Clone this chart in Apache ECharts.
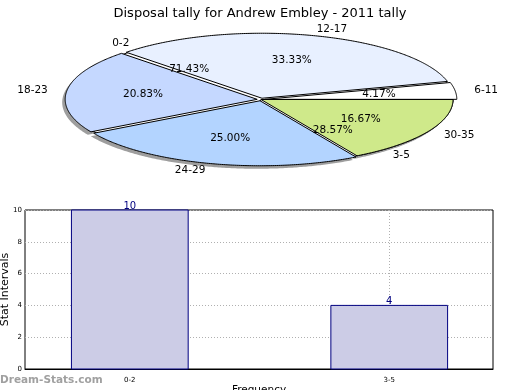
<!DOCTYPE html>
<html>
<head>
<meta charset="utf-8">
<script src="https://cdn.jsdelivr.net/npm/echarts@6/dist/echarts.min.js"></script>
<style>
html,body{margin:0;padding:0;background:#fff;}
#chart{width:520px;height:390px;}
</style>
</head>
<body>
<div id="chart"></div>
<script>
// ---- data ----
const titleText = 'Disposal tally for Andrew Embley - 2011 tally';
const pieCategories = ['6-11', '12-17', '18-23', '24-29', '30-35'];
const pieValues = [1, 8, 5, 6, 4];
const pie2Categories = ['0-2', '3-5'];
const pie2Values = [10, 4];
const barCategories = ['0-2', '3-5'];
const barValues = [10, 4];
const barPositions = [0, 1];
const yTicks = [0, 2, 4, 6, 8, 10];

// ---- style ----
const pieColors = ['#ffffff', '#e8f0ff', '#c5d8ff', '#b3d4ff', '#cfe98a'];
const pieExplode = [0.02, 0.02, 0.02, 0.02, 0];
const PIE = { cx: 261, cy: 99.5, rx: 192, ry: 65 };
const BAR_WIDTH = 0.45;
const FONT = '"DejaVu Sans", sans-serif';

function wedgeAngles(values, idx) {
  const total = values.reduce((a, b) => a + b, 0);
  let s = 0;
  for (let i = 0; i < idx; i++) s += values[i];
  const a0 = s / total * Math.PI * 2;
  const a1 = (s + values[idx]) / total * Math.PI * 2;
  return { a0, a1, mid: (a0 + a1) / 2, frac: values[idx] / total };
}
function wedgePoints(ox, oy, a0, a1) {
  const pts = [[ox, oy]];
  const n = Math.max(4, Math.ceil((a1 - a0) / 0.01));
  for (let k = 0; k <= n; k++) {
    const t = a0 + (a1 - a0) * k / n;
    pts.push([ox + PIE.rx * Math.cos(t), oy - PIE.ry * Math.sin(t)]);
  }
  return pts;
}
function makePieRender(values, cats, colors, explode, mode) {
  return function (params, api) {
    const i = params.dataIndex;
    const w = wedgeAngles(values, i);
    const e = explode ? explode[i] : 0;
    const ox = PIE.cx + e * PIE.rx * Math.cos(w.mid);
    const oy = PIE.cy - e * PIE.ry * Math.sin(w.mid);
    const children = [];
    if (mode === 'shadow') {
      children.push({
        type: 'polygon',
        shape: { points: wedgePoints(ox - 3, oy + 3, w.a0, w.a1) },
        style: { fill: 'rgba(0,0,0,0.38)', stroke: null }
      });
      return { type: 'group', children };
    }
    if (mode === 'wedge') {
      children.push({
        type: 'polygon',
        shape: { points: wedgePoints(ox, oy, w.a0, w.a1) },
        style: { fill: colors[i], stroke: '#000', lineWidth: 1 }
      });
      return { type: 'group', children };
    }
    const cm = Math.cos(w.mid), sm = Math.sin(w.mid);
    const lx = ox + 1.1 * PIE.rx * cm;
    const ly = oy - 1.1 * PIE.ry * sm;
    children.push({
      type: 'text',
      style: {
        text: cats[i], x: lx, y: ly,
        align: cm >= 0 ? 'left' : 'right', verticalAlign: 'middle',
        font: '10.5px ' + FONT, fill: '#000'
      }
    });
    const px = ox + 0.6 * PIE.rx * cm;
    const py = oy - 0.6 * PIE.ry * sm;
    children.push({
      type: 'text',
      style: {
        text: (w.frac * 100).toFixed(2) + '%', x: px, y: py,
        align: 'center', verticalAlign: 'middle',
        font: '10.5px ' + FONT, fill: '#000'
      }
    });
    return { type: 'group', children };
  };
}

function renderBar(params, api) {
  const x = api.value(0), v = api.value(1);
  const top = api.coord([x, v]);
  const base = api.coord([x, 0]);
  const w = api.size([BAR_WIDTH, 0])[0];
  return {
    type: 'group',
    children: [
      {
        type: 'rect',
        shape: { x: top[0] - w / 2, y: top[1], width: w, height: base[1] - top[1] },
        style: { fill: '#ccccE6', stroke: '#000080', lineWidth: 1 }
      },
      {
        type: 'text', z2: 10,
        style: {
          text: String(v), x: top[0], y: top[1] - 4,
          align: 'center', verticalAlign: 'middle',
          font: '10px ' + FONT, fill: '#000080'
        }
      }
    ]
  };
}

const chart = echarts.init(document.getElementById('chart'), null, { renderer: 'canvas' });
const option = {
  animation: false,
  backgroundColor: '#fff',
  title: {
    text: titleText, left: 'center', top: 2,
    textStyle: { fontFamily: FONT, fontSize: 13, fontWeight: 'normal', color: '#000' }
  },
  graphic: [{
    type: 'text', left: 0, top: 375,
    style: { text: 'Dream-Stats.com', font: 'bold 10.5px ' + FONT, fill: '#a0a0a0' }
  }],
  grid: {
    left: 25, right: 27, top: 210, bottom: 21,
    show: true, borderColor: '#000', borderWidth: 1,
    containLabel: false, outerBoundsMode: 'none'
  },
  xAxis: {
    type: 'value', min: -0.404, max: 1.4,
    name: 'Frequency', nameLocation: 'middle', nameGap: 15,
    nameTextStyle: { fontFamily: FONT, fontSize: 10.5, color: '#000' },
    axisLine: { show: true, lineStyle: { color: '#000' } },
    axisTick: { show: true, inside: true, length: 3, customValues: barPositions, lineStyle: { color: '#000' } },
    axisLabel: {
      customValues: barPositions, fontFamily: FONT, fontSize: 7, color: '#000', margin: 8,
      formatter: function (v) { const k = barPositions.indexOf(Math.round(v)); return k >= 0 ? barCategories[k] : ''; }
    },
    splitLine: { show: true, lineStyle: { color: '#b0b0b0', type: [1, 2], width: 1 } }
  },
  yAxis: {
    type: 'value', min: yTicks[0], max: yTicks[yTicks.length - 1], interval: 2,
    name: 'Stat Intervals', nameLocation: 'middle', nameGap: 14, nameRotate: 90,
    nameMoveOverlap: false,
    nameTextStyle: { fontFamily: FONT, fontSize: 11, color: '#000' },
    axisLine: { show: true, lineStyle: { color: '#000' } },
    axisTick: { show: true, inside: true, length: 3, lineStyle: { color: '#000' } },
    axisLabel: { fontFamily: FONT, fontSize: 7, color: '#000', margin: 3 },
    splitLine: { show: true, lineStyle: { color: '#b0b0b0', type: [1, 2], width: 1 } }
  },
  series: [
    {
      type: 'custom', coordinateSystem: 'none', z: 1,
      data: pieValues.map(v => [v]),
      renderItem: makePieRender(pieValues, pieCategories, pieColors, pieExplode, 'shadow')
    },
    {
      type: 'custom', coordinateSystem: 'none', z: 2,
      data: pie2Values.map(v => [v]),
      renderItem: makePieRender(pie2Values, pie2Categories, ['#ffffff', '#ffffff'], null, 'wedge')
    },
    {
      type: 'custom', coordinateSystem: 'none', z: 3,
      data: pieValues.map(v => [v]),
      renderItem: makePieRender(pieValues, pieCategories, pieColors, pieExplode, 'wedge')
    },
    {
      type: 'custom', coordinateSystem: 'none', z: 4,
      data: pie2Values.map(v => [v]),
      renderItem: makePieRender(pie2Values, pie2Categories, null, null, 'label')
    },
    {
      type: 'custom', coordinateSystem: 'none', z: 4,
      data: pieValues.map(v => [v]),
      renderItem: makePieRender(pieValues, pieCategories, null, pieExplode, 'label')
    },
    {
      type: 'custom', coordinateSystem: 'cartesian2d', z: 2,
      data: barValues.map((v, i) => [barPositions[i], v]),
      renderItem: renderBar
    }
  ]
};
chart.setOption(option);
</script>
</body>
</html>
